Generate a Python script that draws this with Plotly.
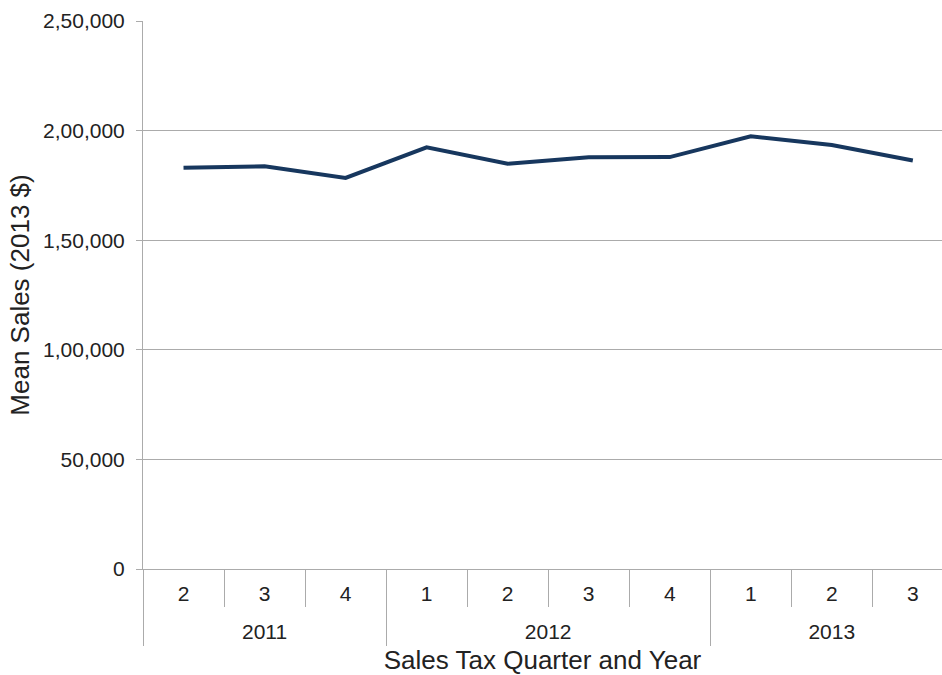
import plotly.graph_objects as go

# Quarterly mean sales, grouped by year
years = ["2011", "2011", "2011", "2012", "2012", "2012", "2012", "2013", "2013", "2013"]
quarters = ["2", "3", "4", "1", "2", "3", "4", "1", "2", "3"]
mean_sales = [183000, 183700, 178400, 192400, 184900, 187800, 187900, 197400, 193400, 186400]

y_tick_vals = [0, 50000, 100000, 150000, 200000, 250000]
y_tick_text = ["0", "50,000", "1,00,000", "1,50,000", "2,00,000", "2,50,000"]

grid = "#ababab"
font_family = "Liberation Sans, Arial, Helvetica, sans-serif"
text_color = "#222222"

# category positions along the x axis
pos = list(range(len(quarters)))

# boundaries between adjacent quarters, and between year groups
quarter_bounds = [-0.5] + [i - 0.5 for i in pos[1:]]
year_bounds = [-0.5] + [i - 0.5 for i in pos[1:] if years[i] != years[i - 1]]

# one label per year, centred on its group of quarters
year_names = list(dict.fromkeys(years))
year_centres = [
    sum(i for i in pos if years[i] == y) / years.count(y) for y in year_names
]

fig = go.Figure()
fig.add_trace(
    go.Scatter(
        x=pos,
        y=mean_sales,
        mode="lines",
        line=dict(color="#17375e", width=4),
        showlegend=False,
        hovertemplate="%{y:,}<extra></extra>",
    )
)
# carrier trace so the year axis is laid out
fig.add_trace(
    go.Scatter(
        x=pos,
        y=mean_sales,
        xaxis="x2",
        mode="lines",
        line=dict(width=0),
        opacity=0,
        showlegend=False,
        hoverinfo="skip",
    )
)

# the last category runs slightly past the right edge of the plot
x_range = [-0.5, len(quarters) - 0.64]

fig.update_layout(
    width=942,
    height=675,
    margin=dict(l=143, r=0, t=21, b=106),
    paper_bgcolor="white",
    plot_bgcolor="white",
    font=dict(family=font_family, size=21, color=text_color),
    xaxis=dict(
        range=x_range,
        tickmode="array",
        tickvals=pos,
        ticktext=quarters,
        ticks="",
        ticklabelstandoff=6,
        showgrid=False,
        zeroline=False,
        showline=True,
        linecolor=grid,
        linewidth=1,
        tickfont=dict(size=21),
        minor=dict(
            tickmode="array",
            tickvals=quarter_bounds,
            ticks="outside",
            ticklen=37,
            tickcolor=grid,
            tickwidth=1,
            showgrid=False,
        ),
    ),
    xaxis2=dict(
        overlaying="x",
        matches="x",
        anchor="y",
        side="bottom",
        range=x_range,
        tickmode="array",
        tickvals=year_centres,
        ticktext=year_names,
        ticks="",
        ticklabelstandoff=48,
        showgrid=False,
        zeroline=False,
        showline=False,
        tickfont=dict(size=21),
        minor=dict(
            tickmode="array",
            tickvals=year_bounds,
            ticks="outside",
            ticklen=76,
            tickcolor=grid,
            tickwidth=1,
            showgrid=False,
        ),
        title=dict(text="Sales Tax Quarter and Year", font=dict(size=26), standoff=12),
    ),
    yaxis=dict(
        range=[0, 250000],
        tickmode="array",
        tickvals=y_tick_vals,
        ticktext=y_tick_text,
        showgrid=True,
        gridcolor=grid,
        gridwidth=1,
        showline=True,
        linecolor=grid,
        linewidth=1,
        ticks="outside",
        ticklen=6,
        tickcolor=grid,
        ticklabelstandoff=7,
        zeroline=False,
        tickfont=dict(size=21),
        title=dict(text="Mean Sales (2013 $)", font=dict(size=26), standoff=5),
    ),
)

fig.write_html("out.html")
